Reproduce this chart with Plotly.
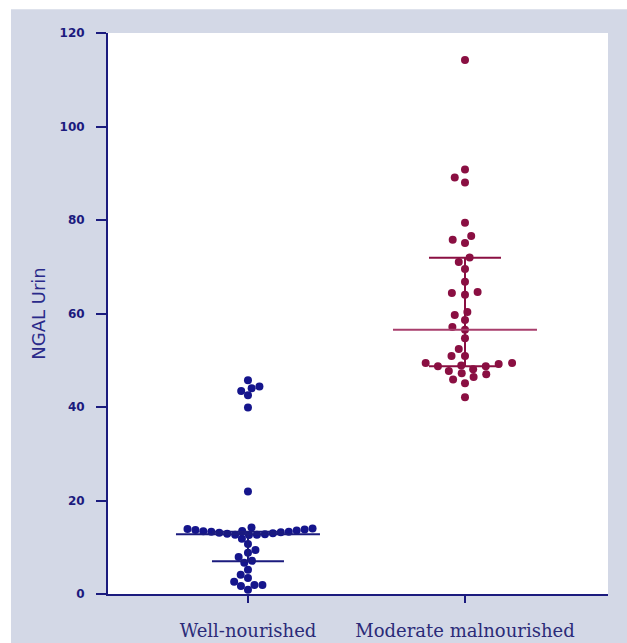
import math
import plotly.graph_objects as go

# ---------------- data ----------------
categories = ["Well-nourished", "Moderate malnourished"]

well_nourished = [45.7, 44.4, 44.0, 43.4, 42.5, 39.9, 21.9,
                  14.2, 14.0, 13.9, 13.8, 13.7, 13.6, 13.5, 13.4, 13.3,
                  13.3, 13.2, 13.1, 13.0, 12.9, 12.8, 12.7, 12.7, 12.6,
                  11.8, 10.7, 9.4, 8.8, 7.9, 7.1, 6.7, 5.2, 4.1, 3.4,
                  2.6, 1.9, 1.9, 1.7, 0.9]

moderate_malnourished = [114.2, 90.8, 89.1, 88.0, 79.4, 76.6, 75.8, 75.1,
                         72.0, 71.0, 69.5, 66.8, 64.6, 64.4, 64.0, 60.3,
                         59.7, 58.6, 57.1, 56.5, 54.7, 52.4, 50.9, 50.9,
                         49.4, 49.4, 49.2, 48.9, 48.7, 48.7, 48.1, 47.7,
                         47.2, 47.0, 46.4, 45.9, 45.1, 42.1]

medians = [12.8, 56.5]
q1_values = [7.0, 48.7]
q3_values = [13.3, 71.9]

y_ticks = [0, 20, 40, 60, 80, 100, 120]

# ---------------- layout geometry ----------------
W, H = 627, 653
ML, MR, MT, MB = 108, 19, 33, 52
PW, PH = W - ML - MR, H - MT - MB
X_RANGE = [-0.645, 1.659]
Y_RANGE = [0, 120]
px_per_x = PW / (X_RANGE[1] - X_RANGE[0])
px_per_y = PH / (Y_RANGE[1] - Y_RANGE[0])

NAVY = "#1b1b7e"
BLUE_PTS = "#15158c"
MAROON = "#8a0f42"
BG = "#d3d8e6"
MARKER_D = 8.0


def swarm_offsets(values, sx, sy):
    """Beeswarm with elliptical spacing: each point goes to the smallest
    horizontal offset (px) that keeps it clear of the points already placed."""
    order = sorted(range(len(values)), key=lambda i: values[i])
    placed = []
    offsets = [0.0] * len(values)

    def clash(cx, cy):
        for (px, py) in placed:
            if ((px - cx) / sx) ** 2 + ((py - cy) / sy) ** 2 < 1 - 1e-6:
                return True
        return False

    for i in order:
        y = values[i] * px_per_y
        cands = [0.0]
        for (px, py) in placed:
            dy = abs(py - y)
            if dy < sy:
                dx = sx * math.sqrt(1 - (dy / sy) ** 2)
                cands += [px + dx, px - dx]
        cands.sort(key=lambda c: (abs(c), c))
        c = 0.0
        for c in cands:
            if not clash(c, y):
                break
        placed.append((c, y))
        offsets[i] = c
    return offsets


fig = go.Figure()

groups = [well_nourished, moderate_malnourished]
colors = [BLUE_PTS, MAROON]
spacings = [8.0, 13.5]

for gi, (vals, col) in enumerate(zip(groups, colors)):
    offs = swarm_offsets(vals, spacings[gi], 8.0)
    xs = [gi + o / px_per_x for o in offs]
    fig.add_trace(go.Scatter(
        x=xs, y=vals, mode="markers",
        marker=dict(size=MARKER_D, color=col, line=dict(width=0)),
        cliponaxis=False, showlegend=False, hoverinfo="y"))

long_half = 72 / px_per_x
short_half = 36 / px_per_x
line_cols = [NAVY, MAROON]
median_cols = [NAVY, "#a83e6c"]
for gi in range(2):
    c = line_cols[gi]
    fig.add_trace(go.Scatter(x=[gi, gi], y=[q1_values[gi], q3_values[gi]],
                             mode="lines", line=dict(color=c, width=2),
                             showlegend=False, hoverinfo="skip"))
    for q in (q1_values[gi], q3_values[gi]):
        fig.add_trace(go.Scatter(x=[gi - short_half, gi + short_half], y=[q, q],
                                 mode="lines", line=dict(color=c, width=2),
                                 showlegend=False, hoverinfo="skip"))
    fig.add_trace(go.Scatter(x=[gi - long_half, gi + long_half],
                             y=[medians[gi], medians[gi]],
                             mode="lines", line=dict(color=median_cols[gi], width=2),
                             showlegend=False, hoverinfo="skip"))

fig.update_layout(
    width=W, height=H, autosize=False,
    margin=dict(l=ML, r=MR, t=MT, b=MB, pad=0),
    paper_bgcolor=BG, plot_bgcolor="white",
    showlegend=False,
    shapes=[
        dict(type="rect", xref="paper", yref="paper",
             x0=-ML / PW - 0.01, x1=(11 - ML) / PW, y0=-MB / PH - 0.01, y1=1 + MT / PH + 0.01,
             fillcolor="white", line=dict(width=0), layer="below"),
        dict(type="rect", xref="paper", yref="paper",
             x0=-ML / PW - 0.01, x1=1 + MR / PW + 0.01, y0=1 + (MT - 9) / PH, y1=1 + MT / PH + 0.01,
             fillcolor="white", line=dict(width=0), layer="below"),
    ],
    xaxis=dict(
        range=X_RANGE, tickmode="array", tickvals=[0, 1], ticktext=categories,
        showgrid=False, zeroline=False, showline=True, linecolor=NAVY, linewidth=2,
        ticks="outside", ticklen=7, tickwidth=2, tickcolor=NAVY,
        ticklabelstandoff=12,
        tickfont=dict(family="DejaVu Serif", size=18, color="#2b2b78"),
    ),
    yaxis=dict(
        range=Y_RANGE, tickmode="array", tickvals=y_ticks,
        showgrid=False, zeroline=False, showline=True, linecolor=NAVY, linewidth=2,
        ticks="outside", ticklen=10, tickwidth=2, tickcolor=NAVY,
        ticklabelstandoff=9,
        tickfont=dict(family="DejaVu Sans", size=12, color=NAVY, weight="bold"),
        title=dict(text="NGAL Urin", standoff=9,
                   font=dict(family="DejaVu Sans", size=18, color="#2a2a8a")),
    ),
)

fig.write_html(
    "out.html",
    config={"displayModeBar": False, "responsive": False},
    post_script="document.body.style.margin='0';document.body.style.padding='0';"
                "document.documentElement.style.overflow='hidden';",
)
